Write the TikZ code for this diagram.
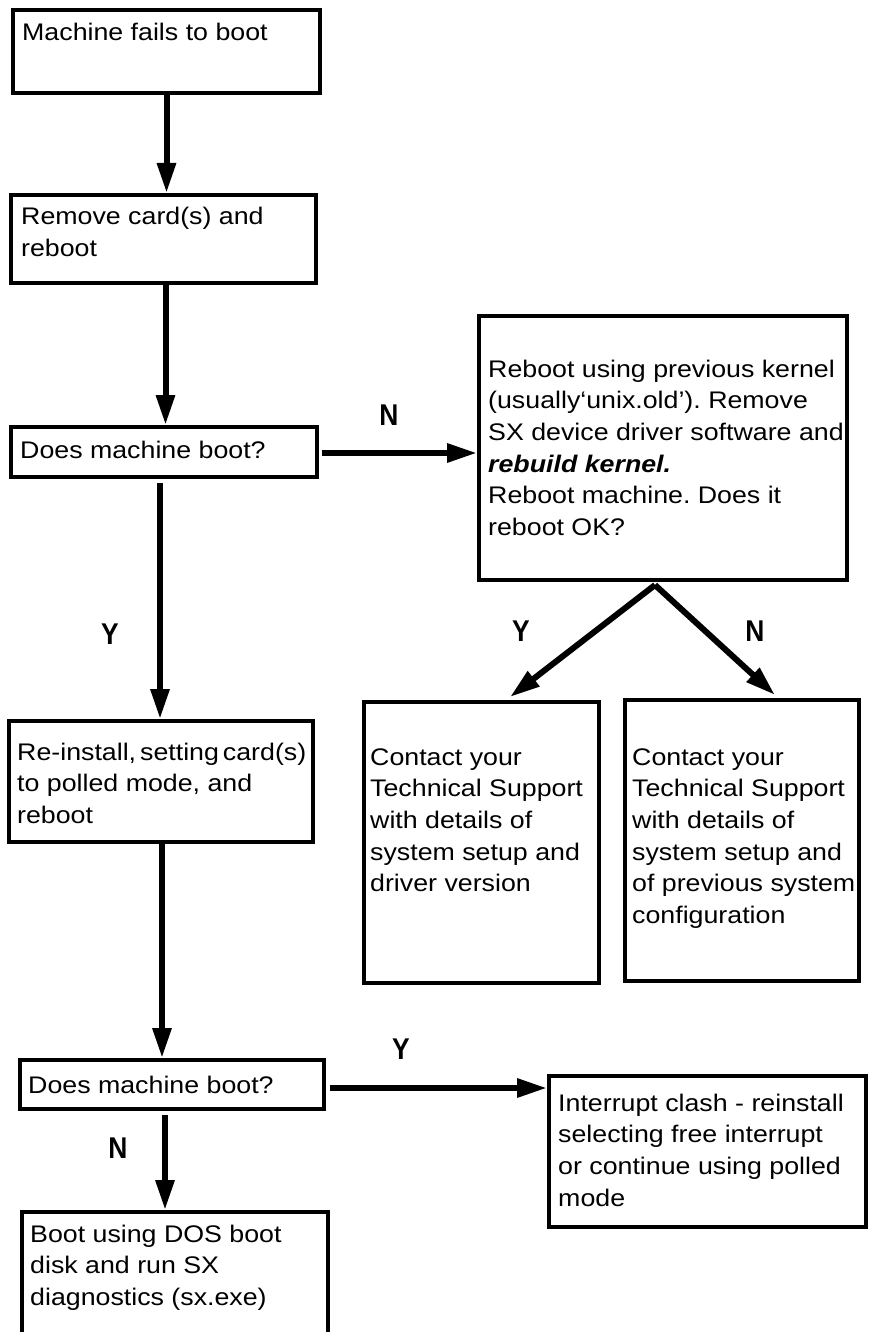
\documentclass[tikz,border=0pt]{standalone}
\usepackage{fontspec}
\setmainfont{Liberation Sans}[FakeStretch=1.115]
\newfontfamily\yesnofont{Liberation Sans}[FakeStretch=0.88]
\usetikzlibrary{arrows.meta}
\frenchspacing
\begin{document}
\begin{tikzpicture}[x=1pt,y=-1pt,
  box/.style={draw, line width=4pt, inner sep=0pt},
  txt/.style={anchor=base west, inner sep=0pt, font=\fontsize{24}{31.7}\selectfont},
  yn/.style={inner sep=0pt, font=\yesnofont\bfseries\fontsize{30}{30}\selectfont},
  flow/.style={line width=6pt, -{Triangle[length=30pt,width=18pt]}}]

\useasboundingbox (0,0) rectangle (871,1332);
\fill[white] (0,0) rectangle (871,1332);

% boxes
\node[box, minimum width=307pt, minimum height=83pt]  (b1)  at (166.5,51.5) {};
\node[box, minimum width=305pt, minimum height=88pt]  (b2)  at (163.5,239) {};
\node[box, minimum width=306pt, minimum height=50pt]  (b3)  at (164,452) {};
\node[box, minimum width=368pt, minimum height=264pt] (rb)  at (663,448) {};
\node[box, minimum width=304pt, minimum height=121pt] (b5)  at (161,781.5) {};
\node[box, minimum width=235pt, minimum height=281pt] (c1)  at (481.5,842.5) {};
\node[box, minimum width=234pt, minimum height=281pt] (c2)  at (742,840.5) {};
\node[box, minimum width=304pt, minimum height=49pt]  (b8)  at (172,1084.5) {};
\node[box, minimum width=317pt, minimum height=151pt] (ib)  at (707.5,1151.5) {};
\node[box, minimum width=306pt, minimum height=130pt] (b10) at (175,1277) {};

% box texts
\node[txt] (t1) at (22,41) {Machine fails to boot};
\node[txt] (t2) at (21,225) {\vtop{\hbox{Remove card(s) and}\hbox{reboot}}};
\node[txt] (t3) at (20,458) {Does machine boot?};
\node[txt] (t4) at (488,377) {\vtop{%
  \hbox{Reboot using previous kernel}%
  \hbox{(usually‘unix.old’). Remove}%
  \hbox{SX device driver software and}%
  \hbox{\bfseries\itshape rebuild kernel.}%
  \hbox{Reboot machine. Does it}%
  \hbox{reboot OK?}}};
\node[txt] (t5) at (17,760) {\vtop{%
  \hbox{\spaceskip=4pt Re-install, setting card(s)}%
  \hbox{to polled mode, and}%
  \hbox{reboot}}};
\node[txt] (t6) at (370,765) {\vtop{%
  \hbox{Contact your}%
  \hbox{Technical Support}%
  \hbox{with details of}%
  \hbox{system setup and}%
  \hbox{driver version}}};
\node[txt] (t7) at (632,765) {\vtop{%
  \hbox{Contact your}%
  \hbox{Technical Support}%
  \hbox{with details of}%
  \hbox{system setup and}%
  \hbox{of previous system}%
  \hbox{configuration}}};
\node[txt] (t8) at (28,1093) {Does machine boot?};
\node[txt] (t9) at (558,1111) {\vtop{%
  \hbox{Interrupt clash - reinstall}%
  \hbox{selecting free interrupt}%
  \hbox{or continue using polled}%
  \hbox{mode}}};
\node[txt] (t10) at (30,1242) {\vtop{%
  \hbox{Boot using DOS boot}%
  \hbox{disk and run SX}%
  \hbox{diagnostics (sx.exe)}}};

% branch labels
\node[yn] (lN1) at (389,415) {N};
\node[yn] (lY1) at (110,634) {Y};
\node[yn] (lY2) at (521,631) {Y};
\node[yn] (lN2) at (755,631) {N};
\node[yn] (lY3) at (401,1049) {Y};
\node[yn] (lN3) at (118,1148) {N};

% connectors
\draw[flow] (b1.south) -- (b1.south |- b2.north);
\draw[flow] ([xshift=2pt]b2.south) -- ([xshift=2pt]b2.south |- b3.north);
\draw[flow] ([xshift=-4pt,yshift=-4pt]b3.south) -- ([xshift=-4pt]b3.south |- b5.north);
\draw[flow] ([xshift=1pt]b5.south) -- ([xshift=1pt]b5.south |- b8.north);
\draw[flow] ([xshift=-7pt,yshift=-4pt]b8.south) -- ([xshift=-7pt]b8.south |- b10.north);
\draw[flow] ([xshift=3pt,yshift=-1pt]b3.east) -- ([yshift=-1pt]b3.east -| rb.west);
\draw[flow] ([xshift=4pt,yshift=-3.5pt]b8.east) -- ([yshift=-3.5pt]b8.east -| ib.west);

\coordinate (apex) at ([xshift=-8pt,yshift=-3pt]rb.south);
\draw[flow] (apex) -- ([xshift=28.5pt,yshift=3pt]c1.north);
\draw[flow] (apex) -- ([xshift=33pt,yshift=3pt]c2.north);
\end{tikzpicture}
\end{document}
